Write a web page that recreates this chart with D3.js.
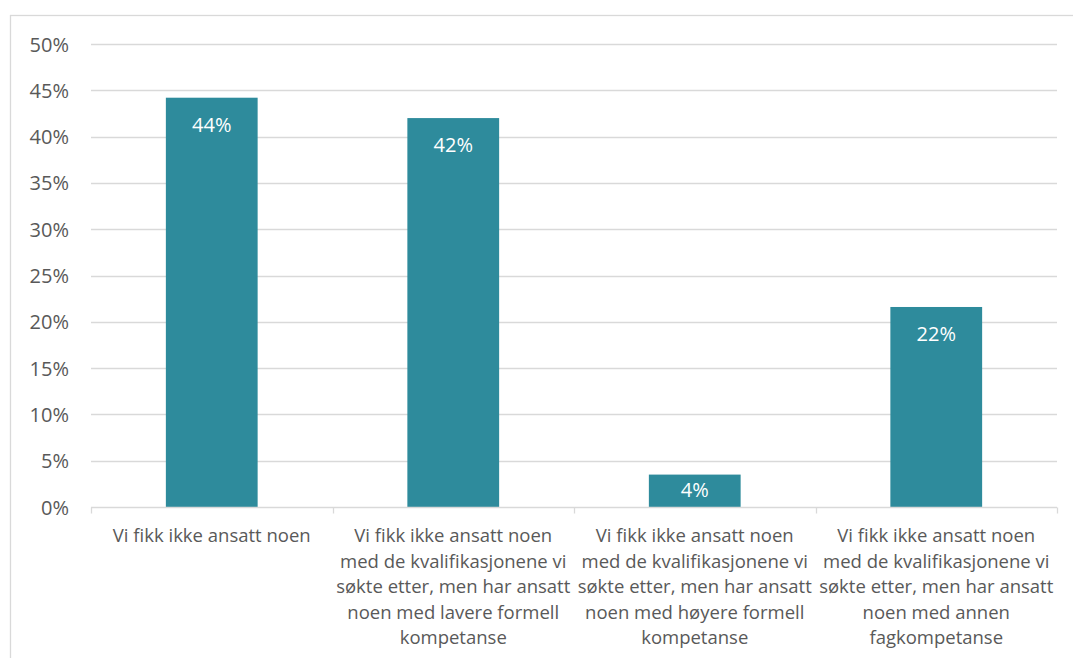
<!DOCTYPE html>
<html>
<head>
<meta charset="utf-8">
<script src="https://cdn.jsdelivr.net/npm/d3@7"></script>
<style>
  body { margin: 0; background: #fff; }
  svg { display: block; font-family: "Open Sans", "Noto Sans", sans-serif; }
</style>
</head>
<body>
<svg id="svg"></svg>
<script>
// chart data
const categories = [
    "Vi fikk ikke ansatt noen",
    "Vi fikk ikke ansatt noen\nmed de kvalifikasjonene vi\nsøkte etter, men har ansatt\nnoen med lavere formell\nkompetanse",
    "Vi fikk ikke ansatt noen\nmed de kvalifikasjonene vi\nsøkte etter, men har ansatt\nnoen med høyere formell\nkompetanse",
    "Vi fikk ikke ansatt noen\nmed de kvalifikasjonene vi\nsøkte etter, men har ansatt\nnoen med annen\nfagkompetanse"
];
const values = [0.442, 0.420, 0.035, 0.216];
const yTicks = [0, 0.05, 0.10, 0.15, 0.20, 0.25, 0.30, 0.35, 0.40, 0.45, 0.50];

const width = 1073;
const height = 658;
const margin = { top: 44, right: 16, bottom: 151, left: 91 };

let svg = d3.select("#svg").attr("width", width).attr("height", height);

// outer chart frame
svg.append("rect")
    .attr("x", 10.5).attr("y", 15.5)
    .attr("width", 1070).attr("height", 660)
    .attr("fill", "none")
    .attr("stroke", "#d9d9d9")
    .attr("stroke-width", 1.3);

let x = d3.scaleBand()
    .domain(categories)
    .range([margin.left, width - margin.right])
    .paddingInner(0.62)
    .paddingOuter(0.31);

let y = d3.scaleLinear()
    .domain([0, 0.5])
    .range([height - margin.bottom, margin.top]);

// gridlines
svg.append("g")
    .selectAll("line")
    .data(yTicks.filter(d => d > 0))
    .join("line")
        .attr("x1", margin.left)
        .attr("x2", width - margin.right)
        .attr("y1", d => Math.round(y(d)) + 0.5)
        .attr("y2", d => Math.round(y(d)) + 0.5)
        .attr("stroke", "#d9d9d9")
        .attr("stroke-width", 1.3);

// y tick labels
svg.append("g")
    .selectAll("text")
    .data(yTicks)
    .join("text")
        .attr("x", 69)
        .attr("y", d => y(d) + 7.5)
        .attr("text-anchor", "end")
        .style("font-size", "20px")
        .style("fill", "#595959")
        .text(d => d3.format(".0%")(d));

// bars
svg.append("g")
    .selectAll("rect")
    .data(values)
    .join("rect")
        .attr("x", (d, i) => x(categories[i]))
        .attr("y", d => y(d))
        .attr("width", x.bandwidth())
        .attr("height", d => y(0) - y(d))
        .attr("fill", "#2e8b9c");

// value labels inside bars (short bars get the label nudged up like Excel)
svg.append("g")
    .selectAll("text")
    .data(values)
    .join("text")
        .attr("x", (d, i) => x(categories[i]) + x.bandwidth() / 2)
        .attr("y", d => Math.min(y(d) + 34, y(0) - 10))
        .attr("text-anchor", "middle")
        .style("font-size", "20px")
        .style("fill", "#ffffff")
        .text(d => d3.format(".0%")(d));

// x axis line and category boundary ticks
let bounds = d3.range(categories.length + 1).map(i => margin.left + i * (width - margin.right - margin.left) / categories.length);
let axisY = Math.round(y(0)) + 0.5;
svg.append("line")
    .attr("x1", margin.left).attr("x2", width - margin.right)
    .attr("y1", axisY).attr("y2", axisY)
    .attr("stroke", "#d9d9d9")
    .attr("stroke-width", 1.3);
svg.append("g")
    .selectAll("line")
    .data(bounds)
    .join("line")
        .attr("x1", d => Math.round(d) + 0.5)
        .attr("x2", d => Math.round(d) + 0.5)
        .attr("y1", axisY)
        .attr("y2", axisY + 6)
        .attr("stroke", "#d9d9d9")
        .attr("stroke-width", 1.3);

// category labels, wrapped as in the source
let labels = svg.append("g")
    .selectAll("text")
    .data(categories)
    .join("text")
        .attr("x", d => x(d) + x.bandwidth() / 2)
        .attr("y", 542)
        .attr("text-anchor", "middle")
        .style("font-size", "18.5px")
        .style("fill", "#595959");

labels.each(function(d) {
    let t = d3.select(this);
    d.split("\n").forEach((line, i) => {
        t.append("tspan")
            .attr("x", x(d) + x.bandwidth() / 2)
            .attr("dy", i === 0 ? 0 : 25.5)
            .text(line);
    });
});
</script>
</body>
</html>
